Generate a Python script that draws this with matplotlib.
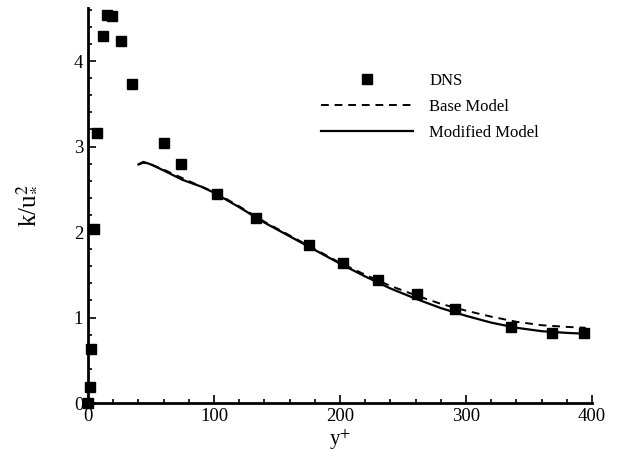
import matplotlib
matplotlib.use("Agg")
import matplotlib.pyplot as plt
from matplotlib.ticker import MultipleLocator

plt.rcParams['font.family'] = ['Liberation Serif', 'DejaVu Serif']
plt.rcParams['mathtext.fontset'] = 'stix'

# DNS points
dns_y_plus = [0, 1.5, 2.5, 5, 7, 12, 15, 19, 26, 35, 60, 74, 102, 133, 175, 202,
              230, 261, 291, 336, 368, 394]
dns_k = [0.0, 0.19, 0.63, 2.03, 3.16, 4.29, 4.54, 4.53, 4.23, 3.73, 3.04, 2.80,
         2.44, 2.16, 1.85, 1.64, 1.44, 1.27, 1.10, 0.89, 0.82, 0.82]

# model curves
model_y_plus = [40, 44, 50, 60, 75, 90, 100, 120, 140, 160, 180, 200, 220, 240,
                260, 280, 300, 320, 340, 360, 380, 395]
modified_k = [2.79, 2.82, 2.79, 2.72, 2.61, 2.53, 2.46, 2.29, 2.11, 1.95, 1.79,
              1.63, 1.48, 1.34, 1.22, 1.11, 1.02, 0.94, 0.88, 0.84, 0.82, 0.81]
base_k = [2.79, 2.81, 2.79, 2.73, 2.63, 2.53, 2.47, 2.30, 2.12, 1.96, 1.80,
          1.64, 1.50, 1.37, 1.26, 1.16, 1.08, 1.01, 0.95, 0.91, 0.89, 0.88]

fig = plt.figure(figsize=(6.21, 4.57), dpi=100)
ax = fig.add_axes([88/621, 54/457, 504/621, 395/457])

ax.plot(dns_y_plus, dns_k, 's', color='black', markersize=7, label='DNS', clip_on=False)
ax.plot(model_y_plus, base_k, '--', color='black', linewidth=1.4, dashes=(4, 3), label='Base Model')
ax.plot(model_y_plus, modified_k, '-', color='black', linewidth=1.6, label='Modified Model')

ax.set_xlim(0, 400)
ax.set_ylim(0, 4.62)
ax.xaxis.set_major_locator(MultipleLocator(100))
ax.xaxis.set_minor_locator(MultipleLocator(20))
ax.yaxis.set_major_locator(MultipleLocator(1))
ax.yaxis.set_minor_locator(MultipleLocator(0.2))
ax.tick_params(which='both', direction='in', labelsize=13.5, width=1.2)
ax.tick_params(which='major', length=6)
ax.tick_params(which='minor', length=3)
ax.spines['top'].set_visible(False)
ax.spines['right'].set_visible(False)
ax.spines['left'].set_linewidth(2)
ax.spines['bottom'].set_linewidth(2)

ax.set_xlabel('y$^{+}$', fontsize=15, labelpad=2)
ax.set_ylabel('k/u$_{*}^{2}$', fontsize=18, labelpad=26)

ax.legend(loc='upper left', bbox_to_anchor=(306/621, 1 - 58/457), bbox_transform=fig.transFigure,
          frameon=False, fontsize=12, handlelength=5.5, labelspacing=0.6, handletextpad=1.0)

fig.savefig('out.png', dpi=100)
